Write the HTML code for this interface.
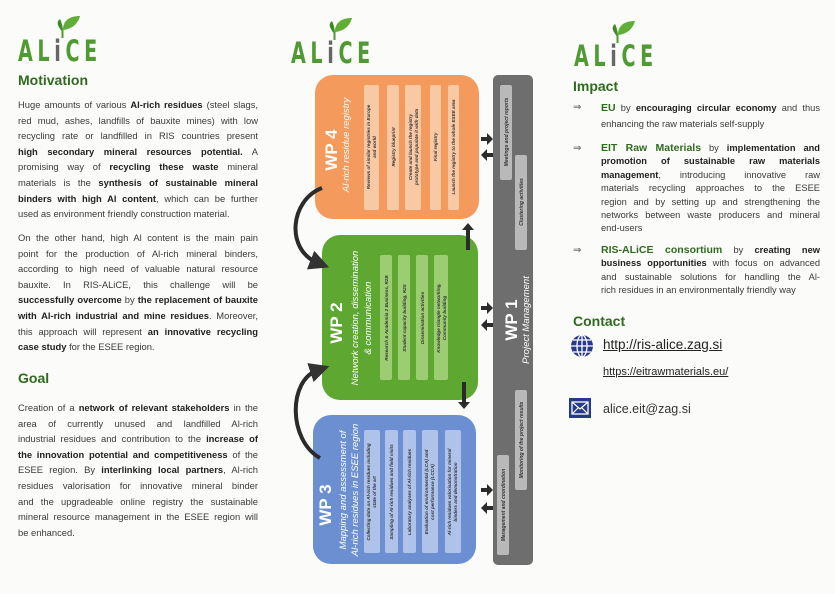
<!DOCTYPE html>
<html><head><meta charset="utf-8"><style>
body{margin:0;width:835px;height:594px;background:#fbfbfa;position:relative;overflow:hidden;font-family:"Liberation Sans",sans-serif;color:#333}
.col{position:absolute;font-size:9.4px;line-height:15.6px;color:#3a3a3a;white-space:nowrap}
.col div,.imp div{text-align:justify;text-align-last:justify}
.col div.l,.imp div.l{text-align-last:left}
h2{margin:0;color:#2f6b1e;font-size:14px;font-weight:bold;position:absolute}
.logo{position:absolute;font-size:29px;font-weight:bold;color:#4f9a32;letter-spacing:7px;font-family:"DejaVu Sans","Liberation Sans",sans-serif;transform:scaleX(.66);transform-origin:0 0}
.imp{position:absolute;left:601px;width:219px;font-size:9.3px;line-height:13.4px;color:#3a3a3a;white-space:nowrap}
.arr{position:absolute;left:573px;font-size:10px;color:#555}
b{color:#222}
.g{color:#2f6b1e;font-size:10.5px}
</style></head><body>

<svg style="position:absolute;left:0;top:0" width="835" height="80">
<g id="lg">
<path d="M63 28 C64 20 70 16 80 16 C78 24 72 29 63 30Z" fill="#5fae35"/>
<path d="M63 33 C59 27 55 23 60 19 C62 23 63 28 63 33Z" fill="#3f8a28"/>
<rect x="61.5" y="30" width="2" height="8" fill="#4f9a32"/>
</g>
<use href="#lg" x="272" y="2"/><use href="#lg" x="555" y="5"/>
</svg>
<div class="logo" style="left:18px;top:34px">AL<span style="color:#666">i</span>CE</div>
<div class="logo" style="left:291px;top:36px">AL<span style="color:#666">i</span>CE</div>
<div class="logo" style="left:574px;top:39px">AL<span style="color:#666">i</span>CE</div>

<h2 style="left:18px;top:72px">Motivation</h2>
<div class="col" style="left:18px;top:97px;width:240px">
<div>Huge amounts of various <b>Al-rich residues</b> (steel slags,</div>
<div>red mud, ashes, landfills of bauxite mines) with low</div>
<div>recycling rate or landfilled in RIS countries present</div>
<div><b>high secondary mineral resources potential.</b> A</div>
<div>promising way of <b>recycling these waste</b> mineral</div>
<div>materials is the <b>synthesis of sustainable mineral</b></div>
<div><b>binders with high Al content</b>, which can be further</div>
<div class="l">used as environment friendly construction material.</div>
</div>
<div class="col" style="left:18px;top:230px;width:240px">
<div>On the other hand, high Al content is the main pain</div>
<div>point for the production of Al-rich mineral binders,</div>
<div>according to high need of valuable natural resource</div>
<div>bauxite. In RIS-ALiCE, this challenge will be</div>
<div><b>successfully overcome</b> by <b>the replacement of bauxite</b></div>
<div><b>with Al-rich industrial and mine residues</b>. Moreover,</div>
<div>this approach will represent <b>an innovative recycling</b></div>
<div class="l"><b>case study</b> for the ESEE region.</div>
</div>
<h2 style="left:18px;top:370px">Goal</h2>
<div class="col" style="left:18px;top:400px;width:240px">
<div>Creation of a <b>network of relevant stakeholders</b> in the</div>
<div>area of currently unused and landfilled Al-rich</div>
<div>industrial residues and contribution to the <b>increase of</b></div>
<div><b>the innovation potential and competitiveness</b> of the</div>
<div>ESEE region. By <b>interlinking local partners</b>, Al-rich</div>
<div>residues valorisation for innovative mineral binder</div>
<div>and the upgradeable online registry the sustainable</div>
<div>mineral resource management in the ESEE region will</div>
<div class="l">be enhanced.</div>
</div>

<svg style="position:absolute;left:0;top:0" width="835" height="594" font-family="Liberation Sans, sans-serif">
<defs>
<marker id="ah" markerWidth="5" markerHeight="5" refX="2" refY="2.5" orient="auto"><path d="M0 0L5 2.5L0 5Z" fill="#333"/></marker>
</defs>
<rect x="493" y="75" width="40" height="490" rx="5" fill="#6e6e6e"/>
<rect x="500" y="85" width="12" height="95" rx="2" fill="#b9b9b9"/>
<rect x="515" y="155" width="12" height="95" rx="2" fill="#b9b9b9"/>
<rect x="515" y="390" width="12" height="100" rx="2" fill="#b9b9b9"/>
<rect x="497" y="455" width="12" height="100" rx="2" fill="#b9b9b9"/>
<g font-size="5" font-style="italic" font-weight="bold" fill="#333" text-anchor="middle">
<text transform="translate(508,132) rotate(-90)">Meetings and project reports</text>
<text transform="translate(523,202) rotate(-90)">Clustering activities</text>
<text transform="translate(523,440) rotate(-90)">Monitoring of the project results</text>
<text transform="translate(505,505) rotate(-90)">Management and coordination</text>
</g>
<text transform="translate(517,320) rotate(-90)" font-size="17" font-weight="bold" fill="#fff" text-anchor="middle">WP 1</text>
<text transform="translate(529,320) rotate(-90)" font-size="9.5" font-style="italic" fill="#fff" text-anchor="middle">Project Management</text>

<rect x="315" y="75" width="164" height="144" rx="18" fill="#f39a5c"/>
<g fill="#f8c9a4">
<rect x="364" y="85" width="15" height="125" rx="2"/><rect x="387" y="85" width="12" height="125" rx="2"/><rect x="405" y="85" width="16" height="125" rx="2"/><rect x="430" y="85" width="11" height="125" rx="2"/><rect x="448" y="85" width="11" height="125" rx="2"/>
</g>
<text transform="translate(337,150) rotate(-90)" font-size="17" font-weight="bold" fill="#fff" text-anchor="middle">WP 4</text>
<text transform="translate(349,145) rotate(-90)" font-size="9.5" font-style="italic" fill="#fff" text-anchor="middle">Al-rich residue registry</text>
<g font-size="4.6" font-style="italic" font-weight="bold" fill="#333" text-anchor="middle">
<text transform="translate(370,147) rotate(-90)">Reviews of similar registries in Europe</text><text transform="translate(376,147) rotate(-90)">and world</text>
<text transform="translate(395,147) rotate(-90)">Registry blueprint</text>
<text transform="translate(412,147) rotate(-90)">Create and launch the registry</text><text transform="translate(418,147) rotate(-90)">prototype and populate it with data</text>
<text transform="translate(437,147) rotate(-90)">Final registry</text>
<text transform="translate(455,147) rotate(-90)">Launch the registry to the whole ESEE area</text>
</g>

<rect x="322" y="235" width="156" height="165" rx="18" fill="#5ea832"/>
<g fill="#9ccd72">
<rect x="380" y="255" width="12" height="125" rx="2"/><rect x="398" y="255" width="12" height="125" rx="2"/><rect x="416" y="255" width="12" height="125" rx="2"/><rect x="434" y="255" width="14" height="125" rx="2"/>
</g>
<text transform="translate(342,323) rotate(-90)" font-size="17" font-weight="bold" fill="#fff" text-anchor="middle">WP 2</text>
<text transform="translate(358,318) rotate(-90)" font-size="9.5" font-style="italic" fill="#fff" text-anchor="middle">Network creation, dissemination</text>
<text transform="translate(371,318) rotate(-90)" font-size="9.5" font-style="italic" fill="#fff" text-anchor="middle">&amp; communication</text>
<g font-size="4.6" font-style="italic" font-weight="bold" fill="#333" text-anchor="middle">
<text transform="translate(388,318) rotate(-90)">Research &amp; Academia 2 Business, R2B</text>
<text transform="translate(406,318) rotate(-90)">Student capacity building, R2S</text>
<text transform="translate(424,318) rotate(-90)">Dissemination activities</text>
<text transform="translate(440,318) rotate(-90)">Knowledge triangle networking,</text><text transform="translate(446,318) rotate(-90)">Community building</text>
</g>

<rect x="313" y="415" width="163" height="149" rx="18" fill="#6c8fd2"/>
<g fill="#aec2ea">
<rect x="364" y="430" width="16" height="123" rx="2"/><rect x="385" y="430" width="13" height="123" rx="2"/><rect x="403" y="430" width="13" height="123" rx="2"/><rect x="422" y="430" width="16" height="123" rx="2"/><rect x="445" y="430" width="16" height="123" rx="2"/>
</g>
<text transform="translate(331,505) rotate(-90)" font-size="17" font-weight="bold" fill="#fff" text-anchor="middle">WP 3</text>
<text transform="translate(346,490) rotate(-90)" font-size="9.5" font-style="italic" fill="#fff" text-anchor="middle">Mapping and assessment of</text>
<text transform="translate(358,490) rotate(-90)" font-size="9.5" font-style="italic" fill="#fff" text-anchor="middle">Al-rich residues in ESEE region</text>
<g font-size="4.6" font-style="italic" font-weight="bold" fill="#333" text-anchor="middle">
<text transform="translate(370,492) rotate(-90)">Collecting data on Al-rich residues including</text><text transform="translate(376,492) rotate(-90)">state of the art</text>
<text transform="translate(393,492) rotate(-90)">Sampling of Al-rich residues and field visits</text>
<text transform="translate(411,492) rotate(-90)">Laboratory analyses of Al-rich residues</text>
<text transform="translate(428,492) rotate(-90)">Evaluation of environmental (LCA) and</text><text transform="translate(434,492) rotate(-90)">cost performance (LCCA)</text>
<text transform="translate(451,492) rotate(-90)">Al-rich residues valorisation for mineral</text><text transform="translate(457,492) rotate(-90)">binders and demonstration</text>
</g>

<g fill="#2b2b2b">
<path d="M481 137h6v-4l6 6-6 6v-4h-6z"/><path d="M493 153h-6v-4l-6 6 6 6v-4h6z"/>
<path d="M481 306h6v-4l6 6-6 6v-4h-6z"/><path d="M493 323h-6v-4l-6 6 6 6v-4h6z"/>
<path d="M481 488h6v-4l6 6-6 6v-4h-6z"/><path d="M493 506h-6v-4l-6 6 6 6v-4h6z"/>
<path d="M466 250v-20h-4l6-7 6 7h-4v20z"/>
<path d="M462 382v20h-4l6 7 6-7h-4v-20z"/>
</g>
<path d="M322 188 C290 200 285 250 318 263" fill="none" stroke="#2b2b2b" stroke-width="4" marker-end="url(#ah)"/>
<path d="M320 458 C288 440 288 380 318 370" fill="none" stroke="#2b2b2b" stroke-width="4" marker-end="url(#ah)"/>
</svg>

<h2 style="left:573px;top:78px">Impact</h2>
<div class="arr" style="top:102px">⇒</div>
<div class="imp" style="top:100px;line-height:16px">
<div><b class="g">EU</b> by <b>encouraging circular economy</b> and thus</div>
<div class="l">enhancing the raw materials self-supply</div>
</div>
<div class="arr" style="top:143px">⇒</div>
<div class="imp" style="top:142px">
<div><b class="g">EIT Raw Materials</b> by <b>implementation and</b></div>
<div><b>promotion of sustainable raw materials</b></div>
<div><b>management</b>, introducing innovative raw</div>
<div>materials recycling approaches to the ESEE</div>
<div>region and by setting up and strengthening the</div>
<div>networks between waste producers and mineral</div>
<div class="l">end-users</div>
</div>
<div class="arr" style="top:245px">⇒</div>
<div class="imp" style="top:244px">
<div><b class="g">RIS-ALiCE consortium</b> by <b>creating new</b></div>
<div><b>business opportunities</b> with focus on advanced</div>
<div>and sustainable solutions for handling the Al-</div>
<div class="l">rich residues in an environmentally friendly way</div>
</div>
<h2 style="left:573px;top:313px">Contact</h2>
<svg style="position:absolute;left:569px;top:333px" width="26" height="26" viewBox="0 0 26 26"><circle cx="13" cy="13" r="11" fill="#2a3a8a"/><g fill="none" stroke="#fff" stroke-width="1.3"><ellipse cx="13" cy="13" rx="5" ry="11"/><line x1="2" y1="13" x2="24" y2="13"/><line x1="13" y1="2" x2="13" y2="24"/><path d="M4 7h18M4 19h18"/></g></svg>
<div style="position:absolute;left:603px;top:337px;font-size:13.5px;color:#222;text-decoration:underline">http://ris-alice.zag.si</div>
<div style="position:absolute;left:603px;top:366px;font-size:11px;color:#222;text-decoration:underline">https://eitrawmaterials.eu/</div>
<svg style="position:absolute;left:569px;top:398px" width="22" height="20"><rect width="22" height="20" fill="#253a8a"/><rect x="3" y="4" width="16" height="12" fill="none" stroke="#fff" stroke-width="1.3"/><path d="M3 4l8 7 8-7M3 16l6-6M19 16l-6-6" fill="none" stroke="#fff" stroke-width="1.2"/></svg>
<div style="position:absolute;left:603px;top:402px;font-size:12.5px;color:#333">alice.eit@zag.si</div>
</body></html>
